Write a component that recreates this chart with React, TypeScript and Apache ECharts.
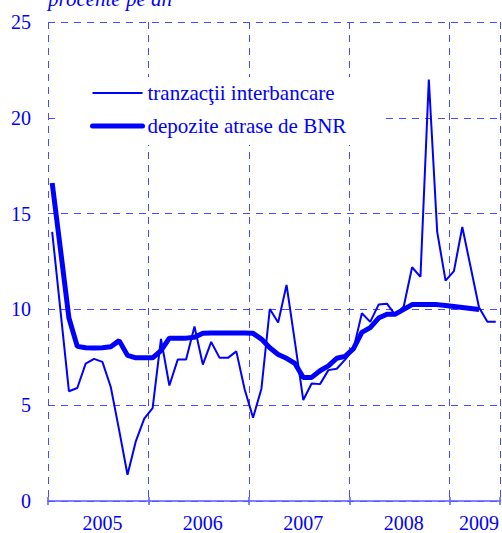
import React, { useEffect, useRef } from "react";
import * as echarts from "echarts";

const years = [2005, 2006, 2007, 2008, 2009];
const monthsPerYear = [12, 12, 12, 12, 6];
const months: string[] = [];
years.forEach((y, i) => {
  for (let m = 1; m <= monthsPerYear[i]; m++) months.push(`${y}-${m < 10 ? "0" + m : m}`);
});

const seriesNames = ["tranzacţii interbancare", "depozite atrase de BNR"];

const interbank = [
  14.05, 9.9, 5.73, 5.9, 7.17, 7.42, 7.26, 5.95, 3.7, 1.37, 3.13, 4.3,
  4.85, 8.46, 6.03, 7.38, 7.38, 9.11, 7.12, 8.3, 7.47, 7.47, 7.81, 5.82,
  4.35, 5.86, 10.02, 9.32, 11.28, 8.3, 5.27, 6.13, 6.1, 6.83, 6.9, 7.38,
  7.94, 9.8, 9.35, 10.25, 10.3, 9.7, 10.15, 12.2, 11.7, 22.0, 14.05, 11.5,
  12.0, 14.3, 12.2, 10.1, 9.36, 9.35,
];

const deposits = [
  16.6, 13.1, 9.55, 8.07, 8.0, 7.98, 8.0, 8.05, 8.37, 7.6, 7.47, 7.47,
  7.47, 7.85, 8.5, 8.5, 8.5, 8.55, 8.75, 8.77, 8.77, 8.77, 8.77, 8.77,
  8.75, 8.45, 8.0, 7.65, 7.45, 7.18, 6.45, 6.45, 6.8, 7.05, 7.45, 7.55,
  7.95, 8.8, 9.05, 9.55, 9.75, 9.75, 10.0, 10.25, 10.25, 10.25, 10.25, 10.2,
  10.15, 10.1, 10.05, 10.0, null, null,
];

const yTicks = { min: 0, max: 25, interval: 5 };
const unitLabel = "procente pe an";

const BLUE = "#0000ff";
const GRID_BLUE = "#4a4aff";
const AXIS_BLUE = "#5a5aff";
const FONT = '"Liberation Serif", "Times New Roman", serif';

export default function App() {
  const ref = useRef<HTMLDivElement>(null);
  useEffect(() => {
    if (!ref.current) return;
    const chart = echarts.init(ref.current, undefined, { renderer: "svg" });
    const yearBoundary = (i: number) => i % 12 === 0;
    const labelAt = (i: number, v: string) =>
      (v.endsWith("-07") && !v.startsWith("2009")) || v === "2009-04";
    chart.setOption({
      animation: false,
      backgroundColor: "#ffffff",
      grid: { left: 48, top: 22, bottom: 30, right: -3, containLabel: false },
      graphic: [
        {
          type: "text",
          x: 48,
          y: -1,
          style: {
            text: unitLabel,
            font: `italic 21px ${FONT}`,
            fill: BLUE,
            verticalAlign: "middle",
          },
        },
      ],
      legend: {
        orient: "vertical",
        left: 55,
        top: 77,
        padding: [5, 38, 8, 35],
        itemGap: 11,
        itemWidth: 50,
        itemHeight: 14,
        backgroundColor: "#ffffff",
        selectedMode: false,
        textStyle: { color: BLUE, fontFamily: FONT, fontSize: 21, lineHeight: 22 },
        data: [
          {
            name: seriesNames[0],
            lineStyle: { width: 2, color: BLUE },
            itemStyle: { opacity: 0, borderWidth: 0 },
          },
          {
            name: seriesNames[1],
            lineStyle: { width: 5, color: BLUE, cap: "round" },
            itemStyle: { opacity: 0, borderWidth: 0 },
          },
        ],
      },
      xAxis: [
        {
          type: "category",
          data: months,
          boundaryGap: true,
          axisLine: { show: true, lineStyle: { color: AXIS_BLUE, width: 1.5 } },
          axisTick: { show: true, interval: yearBoundary, length: 4, lineStyle: { color: AXIS_BLUE, width: 1.5 } },
          axisLabel: {
            show: true,
            interval: labelAt,
            formatter: (v: string) => v.slice(0, 4),
            color: BLUE,
            fontFamily: FONT,
            fontSize: 20,
            margin: 12,
          },
          splitLine: {
            show: true,
            interval: yearBoundary,
            lineStyle: { color: GRID_BLUE, width: 1, type: [7, 6] },
          },
        },
        {
          type: "category",
          data: months,
          boundaryGap: true,
          position: "bottom",
          axisLine: { show: false },
          axisTick: { show: true, inside: true, interval: yearBoundary, length: 4, lineStyle: { color: AXIS_BLUE, width: 1.5 } },
          axisLabel: { show: false },
          splitLine: { show: false },
        },
      ],
      yAxis: {
        type: "value",
        min: yTicks.min,
        max: yTicks.max,
        interval: yTicks.interval,
        axisLine: { show: false },
        axisTick: { show: false },
        axisLabel: { color: BLUE, fontFamily: FONT, fontSize: 20, margin: 17 },
        splitLine: { show: true, lineStyle: { color: GRID_BLUE, width: 1, type: [7, 6] } },
      },
      series: [
        {
          name: seriesNames[0],
          type: "line",
          data: interbank,
          symbol: "none",
          showSymbol: false,
          z: 4,
          lineStyle: { color: BLUE, width: 2 },
          itemStyle: { color: BLUE },
        },
        {
          name: seriesNames[1],
          type: "line",
          data: deposits,
          symbol: "none",
          showSymbol: false,
          z: 3,
          connectNulls: false,
          lineStyle: { color: BLUE, width: 5 },
          itemStyle: { color: BLUE },
        },
      ],
    });
    return () => chart.dispose();
  }, []);
  return (
    <div
      ref={ref}
      style={{ position: "absolute", left: 0, top: 0, width: 502, height: 533, background: "#fff" }}
    />
  );
}
